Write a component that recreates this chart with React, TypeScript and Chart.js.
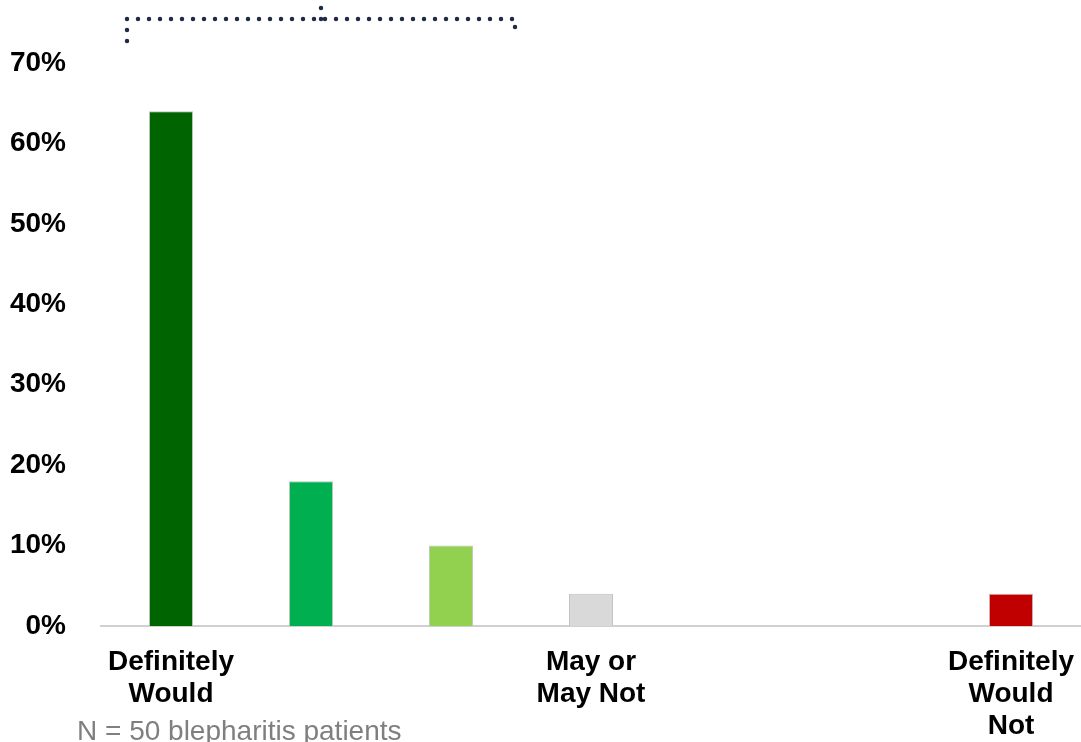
import React, { useEffect, useRef } from "react";
import { Chart, registerables } from "chart.js";

Chart.register(...registerables);

const categories: (string | string[])[] = [
  ["Definitely", "Would"],
  "",
  "",
  ["May or", "May Not"],
  "",
  "",
  ["Definitely", "Would", "Not"],
];
const values: (number | null)[] = [64, 18, 10, 4, null, null, 4];
const barColors = ["#006400", "#00b050", "#92d050", "#d9d9d9", "#d9d9d9", "#d9d9d9", "#c00000"];
const barBorders = ["#b8c8b8", "#b8c8b8", "#c0c8b8", "#bfbfbf", "#bfbfbf", "#bfbfbf", "#d0b0b0"];
const yMax = 70;
const yStep = 10;
const noteText = "N = 50 blepharitis patients";

const FONT = "'Liberation Sans', Arial, sans-serif";

const decorPlugin = {
  id: "decor",
  afterDraw(chart: any) {
    const ctx = chart.ctx;
    const xs = chart.scales.x;
    const left = xs.getPixelForValue(0) - 44;
    const right = xs.getPixelForValue(2) + 64;
    const mid = (left + right) / 2;
    const yLine = 19;
    ctx.save();
    ctx.strokeStyle = "#1f2a44";
    ctx.lineWidth = 4.5;
    ctx.lineCap = "round";
    ctx.setLineDash([0, 11]);
    ctx.beginPath();
    ctx.moveTo(left, 41);
    ctx.lineTo(left, yLine);
    ctx.lineTo(right, yLine);
    ctx.lineTo(right, 37);
    ctx.stroke();
    ctx.beginPath();
    ctx.moveTo(mid, yLine);
    ctx.lineTo(mid, -2);
    ctx.stroke();
    ctx.setLineDash([]);
    ctx.fillStyle = "#7f7f7f";
    ctx.font = `28px ${FONT}`;
    ctx.textAlign = "left";
    ctx.textBaseline = "alphabetic";
    ctx.fillText(noteText, 77, 740);
    ctx.restore();
  },
};

export default function App() {
  const ref = useRef<HTMLCanvasElement>(null);
  useEffect(() => {
    if (!ref.current) return;
    const chart = new Chart(ref.current, {
      type: "bar",
      data: {
        labels: categories,
        datasets: [
          {
            data: values,
            backgroundColor: barColors,
            borderColor: barBorders,
            borderWidth: 1,
            categoryPercentage: 1,
            barPercentage: 0.315,
          },
        ],
      },
      options: {
        responsive: false,
        animation: false,
        layout: { padding: { left: 8, top: 63, right: 0, bottom: 0 } },
        plugins: {
          legend: { display: false },
          tooltip: { enabled: false },
        },
        scales: {
          x: {
            grid: { display: false, drawTicks: false },
            border: { display: true, color: "#d0d0d0", width: 2 },
            ticks: {
              color: "#000",
              font: { family: FONT, size: 28, weight: "bold", lineHeight: 1.15 },
              padding: 20,
              maxRotation: 0,
              autoSkip: false,
            },
            afterFit(scale: any) {
              scale.height = 116;
              scale.paddingLeft = 0;
              scale.paddingRight = 0;
            },
          },
          y: {
            min: 0,
            max: yMax,
            grid: { display: false, drawTicks: false },
            border: { display: false },
            ticks: {
              stepSize: yStep,
              color: "#000",
              font: { family: FONT, size: 28, weight: "bold" },
              padding: 35,
              callback: (v: any) => `${v}%`,
            },
            afterFit(scale: any) {
              scale.width = 93;
            },
          },
        },
      },
      plugins: [decorPlugin],
    });
    return () => chart.destroy();
  }, []);
  return (
    <div style={{ position: "absolute", left: 0, top: 0, width: 1081, height: 742, background: "#fff" }}>
      <canvas ref={ref} width={1081} height={742} />
    </div>
  );
}
